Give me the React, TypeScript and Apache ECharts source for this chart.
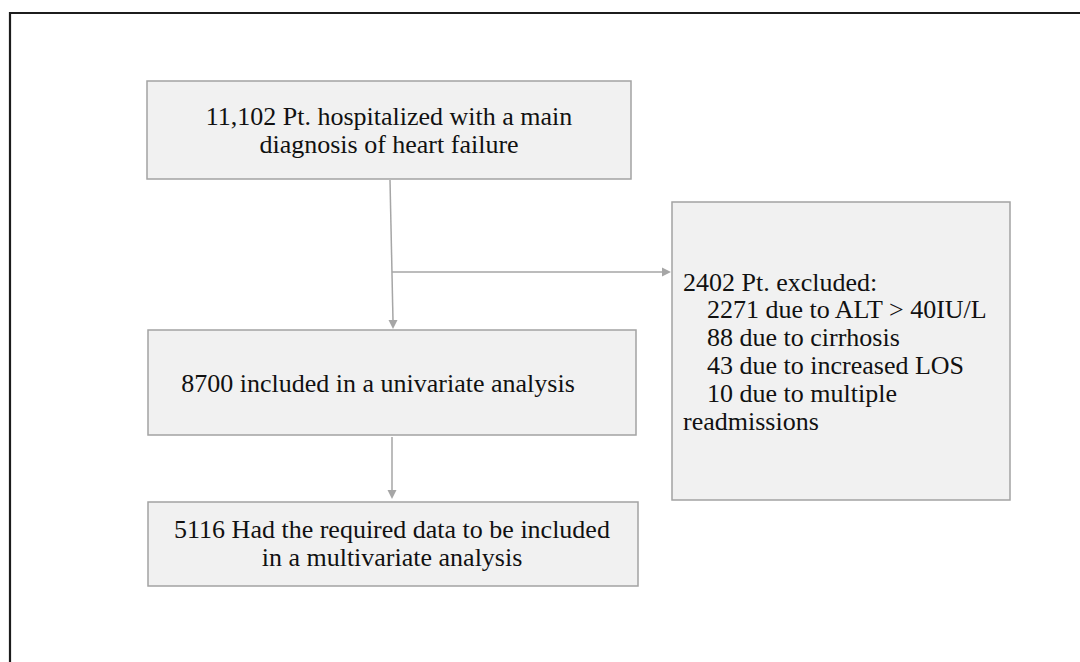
import React, { useEffect, useRef } from "react";
import * as echarts from "echarts";

const topBoxLines = ["11,102 Pt. hospitalized with a main", "diagnosis of heart failure"];
const middleBoxLines = ["8700 included in a univariate analysis"];
const bottomBoxLines = ["5116 Had the required data to be included", "in a multivariate analysis"];
const excludedHeader = "2402 Pt. excluded:";
const excludedItems = ["2271 due to ALT > 40IU/L", "88 due to cirrhosis", "43 due to increased LOS", "10 due to multiple"];
const excludedTail = "readmissions";

const FONT = "'Liberation Serif', 'DejaVu Serif', serif";
const FS = 26;
const LH = 28;
const BOX_FILL = "#f1f1f1";
const BOX_STROKE = "#a3a3a3";
const LINE = "#a6a6a6";
const TEXT = "#111111";

function box(x: number, y: number, w: number, h: number) {
  return {
    type: "rect",
    shape: { x, y, width: w, height: h },
    style: { fill: BOX_FILL, stroke: BOX_STROKE, lineWidth: 1.5 },
  };
}

function centeredLines(lines: string[], cx: number, cy: number) {
  const n = lines.length;
  return lines.map((t, i) => ({
    type: "text",
    x: cx,
    y: cy + (i - (n - 1) / 2) * LH,
    style: {
      text: t,
      font: `${FS}px ${FONT}`,
      fill: TEXT,
      align: "center",
      verticalAlign: "middle",
    },
  }));
}

function leftText(t: string, x: number, y: number) {
  return {
    type: "text",
    x,
    y,
    style: { text: t, font: `${FS}px ${FONT}`, fill: TEXT, align: "left", verticalAlign: "middle" },
  };
}

function arrowDown(x1: number, y1: number, x2: number, y2: number) {
  return [
    { type: "line", shape: { x1, y1, x2, y2: y2 - 8 }, style: { stroke: LINE, lineWidth: 1.5 } },
    {
      type: "polygon",
      shape: { points: [[x2 - 4.5, y2 - 9], [x2 + 4.5, y2 - 9], [x2, y2]] },
      style: { fill: LINE },
    },
  ];
}

function arrowRight(x1: number, y: number, x2: number) {
  return [
    { type: "line", shape: { x1, y1: y, x2: x2 - 8, y2: y }, style: { stroke: LINE, lineWidth: 1.5 } },
    {
      type: "polygon",
      shape: { points: [[x2 - 9, y - 4.5], [x2 - 9, y + 4.5], [x2, y]] },
      style: { fill: LINE },
    },
  ];
}

export default function App() {
  const ref = useRef<HTMLDivElement>(null);
  useEffect(() => {
    if (!ref.current) return;
    const chart = echarts.init(ref.current, null, { renderer: "svg" });
    const elements: any[] = [];
    // outer frame
    elements.push({
      type: "rect",
      shape: { x: 10, y: 13, width: 1200, height: 800 },
      style: { fill: "#ffffff", stroke: "#1c1c1c", lineWidth: 2.2 },
    });
    // boxes
    elements.push(box(147, 81, 484, 98));
    elements.push(box(148, 330, 488, 105));
    elements.push(box(148, 502, 490, 84));
    elements.push(box(672, 202, 338, 298));
    // arrows
    elements.push(...arrowDown(390, 180, 393, 329));
    elements.push(...arrowRight(392, 272, 671));
    elements.push(...arrowDown(392, 437, 392, 499));
    // texts
    elements.push(...centeredLines(topBoxLines, 389, 130));
    elements.push(...centeredLines(middleBoxLines, 378, 383));
    elements.push(...centeredLines(bottomBoxLines, 392, 543));
    elements.push(leftText(excludedHeader, 683, 282));
    excludedItems.forEach((t, i) => elements.push(leftText(t, 707, 309 + i * 28)));
    elements.push(leftText(excludedTail, 683, 421));

    chart.setOption({
      animation: false,
      backgroundColor: "#ffffff",
      graphic: { elements },
    });
    return () => chart.dispose();
  }, []);
  return (
    <div
      ref={ref}
      style={{ position: "fixed", left: 0, top: 0, width: 1080, height: 662 }}
    />
  );
}
